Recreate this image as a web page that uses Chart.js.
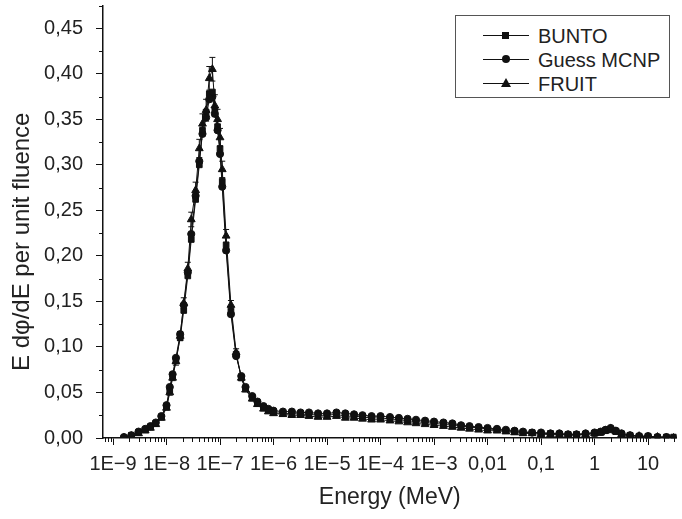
<!DOCTYPE html>
<html>
<head>
<meta charset="utf-8">
<script src="https://cdn.jsdelivr.net/npm/chart.js@4.4.1/dist/chart.umd.min.js"></script>
<style>
    html, body { margin: 0; padding: 0; background: #fff; }
    #wrap { position: relative; width: 682px; height: 519px; }
    #legend {
        position: absolute; left: 455px; top: 15px; width: 213px; height: 81px;
        border: 1px solid #555; background: #fff;
        font-family: "Liberation Sans", Arial, sans-serif; font-size: 20px; color: #222;
    }
    .row { position: absolute; left: 0; height: 24px; line-height: 24px; }
    .sample { position: absolute; left: 27px; top: 11px; width: 46px; height: 0; border-top: 1px solid #111; }
    .mark { position: absolute; left: 19px; }
    .mark.rect { width: 7px; height: 7px; top: -4px; background: #111; }
    .mark.circle { width: 8px; height: 8px; top: -5px; background: #111; border-radius: 50%; }
    .mark.triangle { width: 0; height: 0; top: -6px; left: 18px; border-left: 5px solid transparent; border-right: 5px solid transparent; border-bottom: 9px solid #111; }
    .label { position: absolute; left: 82px; top: 0; white-space: nowrap; }
</style>
</head>
<body>
<div id="wrap">
    <canvas id="spectrum" width="682" height="519"></canvas>
    <div id="legend"></div>
</div>
<script>
const energy = [
    1.6e-9, 2.2e-9, 3e-9, 4e-9, 5e-9, 6.3e-9, 8e-9,
    1e-8, 1.15e-8, 1.3e-8, 1.5e-8, 1.8e-8, 2.1e-8, 2.5e-8, 2.9e-8, 3.5e-8, 4.1e-8, 4.7e-8, 5.5e-8, 6.3e-8, 7.2e-8, 8e-8, 9e-8,
    1e-7, 1.1e-7, 1.3e-7, 1.6e-7, 2e-7, 2.5e-7, 3e-7, 4e-7, 5e-7, 6.5e-7, 8e-7,
    1e-6, 1.5e-6, 2.2e-6, 3.2e-6, 4.6e-6, 6.8e-6,
    1e-5, 1.5e-5, 2.2e-5, 3.2e-5, 4.6e-5, 6.8e-5,
    1e-4, 1.5e-4, 2.2e-4, 3.2e-4, 4.6e-4, 6.8e-4,
    1e-3, 1.5e-3, 2.2e-3, 3.2e-3, 4.6e-3, 6.8e-3,
    1e-2, 1.5e-2, 2.2e-2, 3.2e-2, 4.6e-2, 6.8e-2,
    0.1, 0.15, 0.22, 0.32, 0.46, 0.68,
    1, 1.3, 1.6, 2, 2.5, 3.2, 4.6, 6.8,
    10, 15, 22, 30
];

const bunto = [
    0.000, 0.003, 0.006, 0.009, 0.012, 0.016, 0.023,
    0.034, 0.052, 0.068, 0.085, 0.110, 0.140, 0.178, 0.218, 0.262, 0.300, 0.338, 0.358, 0.378, 0.380, 0.360, 0.342,
    0.318, 0.282, 0.212, 0.140, 0.092, 0.066, 0.054, 0.044, 0.038, 0.033, 0.030,
    0.028, 0.027, 0.027, 0.026, 0.026, 0.025,
    0.025, 0.026, 0.024, 0.024, 0.023, 0.022,
    0.022, 0.021, 0.020, 0.019, 0.018, 0.017,
    0.016, 0.015, 0.014, 0.013, 0.012, 0.011,
    0.010, 0.009, 0.008, 0.007, 0.006, 0.006,
    0.005, 0.005, 0.004, 0.004, 0.004, 0.004,
    0.005, 0.006, 0.008, 0.009, 0.007, 0.004, 0.003, 0.002,
    0.002, 0.001, 0.001, 0.001
];

const guessMcnp = [
    0.001, 0.003, 0.007, 0.010, 0.013, 0.017, 0.024,
    0.036, 0.056, 0.070, 0.088, 0.114, 0.146, 0.182, 0.224, 0.266, 0.304, 0.334, 0.352, 0.372, 0.375, 0.356, 0.338,
    0.312, 0.276, 0.206, 0.136, 0.090, 0.068, 0.056, 0.046, 0.040, 0.035, 0.032,
    0.030, 0.029, 0.029, 0.028, 0.028, 0.027,
    0.027, 0.028, 0.027, 0.026, 0.025, 0.024,
    0.024, 0.023, 0.022, 0.021, 0.020, 0.019,
    0.018, 0.017, 0.016, 0.014, 0.013, 0.012,
    0.011, 0.010, 0.009, 0.008, 0.007, 0.006,
    0.006, 0.005, 0.005, 0.004, 0.004, 0.005,
    0.006, 0.007, 0.009, 0.011, 0.008, 0.005, 0.003, 0.002,
    0.002, 0.001, 0.001, 0.000
];

const fruit = [
    0.000, 0.002, 0.005, 0.008, 0.011, 0.015, 0.022,
    0.033, 0.050, 0.066, 0.084, 0.112, 0.148, 0.186, 0.240, 0.272, 0.318, 0.345, 0.360, 0.395, 0.405, 0.365, 0.350,
    0.330, 0.295, 0.222, 0.146, 0.094, 0.066, 0.053, 0.043, 0.037, 0.032, 0.029,
    0.027, 0.026, 0.025, 0.025, 0.024, 0.023,
    0.023, 0.024, 0.022, 0.022, 0.021, 0.020,
    0.020, 0.019, 0.018, 0.017, 0.016, 0.015,
    0.014, 0.013, 0.012, 0.011, 0.010, 0.009,
    0.008, 0.008, 0.007, 0.006, 0.005, 0.005,
    0.004, 0.004, 0.004, 0.003, 0.003, 0.004,
    0.005, 0.006, 0.008, 0.010, 0.007, 0.004, 0.002, 0.002,
    0.001, 0.001, 0.000, 0.000
];

const fruitErr = [
    0, 0, 0, 0, 0, 0, 0.002,
    0.002, 0.003, 0.003, 0.004, 0.005, 0.006, 0.007, 0.008, 0.009, 0.010, 0.011, 0.012, 0.013, 0.013, 0.012, 0.011,
    0.010, 0.009, 0.007, 0.005, 0.004, 0.003, 0.002, 0.002, 0.002, 0.001, 0.001,
    0.001, 0.001, 0.001, 0.001, 0.001, 0.001,
    0.001, 0.001, 0.001, 0.001, 0.001, 0.001,
    0.001, 0.001, 0.001, 0.001, 0.001, 0.001,
    0.001, 0.001, 0.001, 0.001, 0.001, 0.001,
    0.001, 0.001, 0.001, 0.001, 0.001, 0.001,
    0.001, 0.001, 0.001, 0.001, 0.001, 0.001,
    0.001, 0.001, 0.001, 0.001, 0.001, 0.001, 0.001, 0.001,
    0.001, 0.001, 0.001, 0.001
];

const xTickValues = [1e-9, 1e-8, 1e-7, 1e-6, 1e-5, 1e-4, 1e-3, 1e-2, 0.1, 1, 10];
const xTickLabels = ['1E\u22129', '1E\u22128', '1E\u22127', '1E\u22126', '1E\u22125', '1E\u22124', '1E\u22123', '0,01', '0,1', '1', '10'];
const yTickValues = [0, 0.05, 0.10, 0.15, 0.20, 0.25, 0.30, 0.35, 0.40, 0.45];

const seriesNames = ['BUNTO', 'Guess MCNP', 'FRUIT'];
const seriesMarks = ['rect', 'circle', 'triangle'];

const FONT = '"Liberation Sans", Arial, sans-serif';
const INK = '#111';
const TEXT = '#222';

// small outward ticks between the labelled ones
const minorTicks = {
    id: 'minorTicks',
    afterDraw(chart) {
        const {ctx, scales: {x, y}} = chart;
        ctx.save();
        ctx.strokeStyle = INK;
        ctx.lineWidth = 1;
        ctx.beginPath();
        for (let d = -10; d <= 1; d++) {
            for (let m = 2; m <= 9; m++) {
                const v = m * Math.pow(10, d);
                if (v < x.min || v > x.max) continue;
                const px = Math.round(x.getPixelForValue(v)) + 0.5;
                ctx.moveTo(px, x.top);
                ctx.lineTo(px, x.top + 4);
            }
        }
        for (let v = 0.025; v < y.max; v += 0.05) {
            const py = Math.round(y.getPixelForValue(v)) + 0.5;
            ctx.moveTo(y.right, py);
            ctx.lineTo(y.right - 4, py);
        }
        ctx.stroke();
        ctx.restore();
    }
};

const errorBars = {
    id: 'errorBars',
    afterDatasetsDraw(chart) {
        const {ctx, scales: {x, y}} = chart;
        ctx.save();
        ctx.strokeStyle = INK;
        ctx.lineWidth = 1;
        chart.data.datasets.forEach(ds => {
            if (!ds.errors) return;
            ctx.beginPath();
            ds.data.forEach((p, i) => {
                const e = ds.errors[i];
                if (!e) return;
                const px = x.getPixelForValue(p.x);
                const top = y.getPixelForValue(p.y + e);
                const bot = y.getPixelForValue(Math.max(0, p.y - e));
                ctx.moveTo(px, top); ctx.lineTo(px, bot);
                ctx.moveTo(px - 3, top); ctx.lineTo(px + 3, top);
                ctx.moveTo(px - 3, bot); ctx.lineTo(px + 3, bot);
            });
            ctx.stroke();
        });
        ctx.restore();
    }
};

function makeDataset(label, values, mark, radius) {
    return {
        label: label,
        data: energy.map((e, i) => ({x: e, y: values[i]})),
        borderColor: INK,
        backgroundColor: INK,
        borderWidth: 1,
        pointStyle: mark,
        pointRadius: radius,
        pointBackgroundColor: INK,
        pointBorderColor: INK,
        pointBorderWidth: 1,
        tension: 0
    };
}

const datasets = [
    makeDataset(seriesNames[0], bunto, seriesMarks[0], 4),
    makeDataset(seriesNames[1], guessMcnp, seriesMarks[1], 3.6),
    makeDataset(seriesNames[2], fruit, seriesMarks[2], 4.5)
];
datasets[2].errors = fruitErr;

new Chart(document.getElementById('spectrum'), {
    type: 'line',
    data: {datasets: datasets},
    options: {
        responsive: false,
        animation: false,
        layout: {padding: {top: 5, right: 0, bottom: 0, left: 0}},
        plugins: {legend: {display: false}, tooltip: {enabled: false}},
        scales: {
            x: {
                type: 'logarithmic',
                min: 6.5e-10,
                max: 34,
                afterBuildTicks: scale => { scale.ticks = xTickValues.map(v => ({value: v})); },
                afterFit: scale => {
                    scale.height = 81;
                    scale.paddingLeft = 0; scale.paddingRight = 0;
                },
                ticks: {
                    autoSkip: false,
                    maxRotation: 0,
                    padding: 7,
                    color: TEXT,
                    font: {family: FONT, size: 20},
                    callback: (value, index) => xTickLabels[index]
                },
                grid: {drawOnChartArea: false, drawTicks: true, tickLength: 7, color: INK},
                border: {display: true, color: INK, width: 1.5},
                title: {
                    display: true,
                    text: 'Energy (MeV)',
                    color: TEXT,
                    font: {family: FONT, size: 23},
                    padding: {top: 0, bottom: 8}
                }
            },
            y: {
                type: 'linear',
                min: 0,
                max: 0.475,
                afterBuildTicks: scale => { scale.ticks = yTickValues.map(v => ({value: v})); },
                afterFit: scale => {
                    scale.width = 103;
                    scale.paddingTop = 0; scale.paddingBottom = 0;
                },
                ticks: {
                    padding: 13,
                    color: TEXT,
                    font: {family: FONT, size: 20},
                    callback: value => value.toFixed(2).replace('.', ',')
                },
                grid: {drawOnChartArea: false, drawTicks: true, tickLength: 7, color: INK},
                border: {display: true, color: INK, width: 1.5},
                title: {
                    display: true,
                    // trailing spaces push the title a little below the axis middle, as in the original
                    text: 'E d\u03C6/dE per unit fluence\u00A0\u00A0\u00A0\u00A0\u00A0\u00A0',
                    color: TEXT,
                    font: {family: FONT, size: 24},
                    padding: {top: 8, bottom: 0}
                }
            }
        }
    },
    plugins: [minorTicks, errorBars]
});

// legend box, drawn as page elements like the original's framed key
function buildLegend() {
    const box = document.getElementById('legend');
    seriesNames.forEach((name, i) => {
        const row = document.createElement('div');
        row.className = 'row';
        row.style.top = (8 + i * 24) + 'px';
        row.style.width = '213px';

        const sample = document.createElement('span');
        sample.className = 'sample';
        const mark = document.createElement('span');
        mark.className = 'mark ' + seriesMarks[i];
        sample.appendChild(mark);

        const label = document.createElement('span');
        label.className = 'label';
        label.textContent = name;

        row.appendChild(sample);
        row.appendChild(label);
        box.appendChild(row);
    });
}
buildLegend();
</script>
</body>
</html>
